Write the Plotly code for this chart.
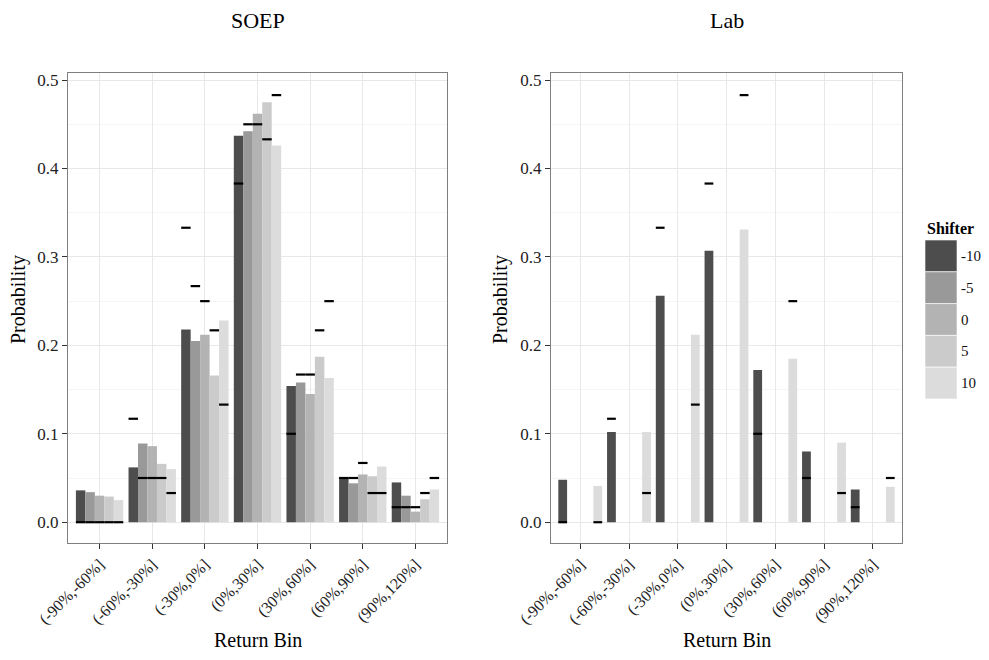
import plotly.graph_objects as go

# ---------------- data ----------------
bins = ["(-90%,-60%]", "(-60%,-30%]", "(-30%,0%]", "(0%,30%]",
        "(30%,60%]", "(60%,90%]", "(90%,120%]"]
shifters = ["-10", "-5", "0", "5", "10"]

soep_m10 = [0.036, 0.062, 0.218, 0.437, 0.154, 0.051, 0.045]
soep_m5 = [0.034, 0.089, 0.205, 0.442, 0.158, 0.044, 0.030]
soep_0 = [0.030, 0.086, 0.212, 0.462, 0.145, 0.054, 0.012]
soep_5 = [0.029, 0.066, 0.166, 0.475, 0.187, 0.052, 0.026]
soep_10 = [0.025, 0.060, 0.228, 0.426, 0.163, 0.063, 0.037]

lab_m10 = [0.048, 0.102, 0.256, 0.307, 0.172, 0.080, 0.037]
lab_10 = [0.041, 0.102, 0.212, 0.331, 0.185, 0.090, 0.040]

ref_m10 = [0.000, 0.117, 0.333, 0.383, 0.100, 0.050, 0.017]
ref_m5 = [0.000, 0.050, 0.267, 0.450, 0.167, 0.050, 0.017]
ref_0 = [0.000, 0.050, 0.250, 0.450, 0.167, 0.067, 0.017]
ref_5 = [0.000, 0.050, 0.217, 0.433, 0.217, 0.033, 0.033]
ref_10 = [0.000, 0.033, 0.133, 0.483, 0.250, 0.033, 0.050]

y_ticks = [0.0, 0.1, 0.2, 0.3, 0.4, 0.5]
y_tick_labels = ["0.0", "0.1", "0.2", "0.3", "0.4", "0.5"]

# ---------------- styles ----------------
colors = ["#4d4d4d", "#999999", "#b3b3b3", "#cbcbcb", "#dcdcdc"]
FONT = "Liberation Serif"
BW = 0.18          # bar width (category units)
DODGE = 0.9        # total dodge width

# page body has an 8px margin; size the figure so it fits the window
BODY = 8
W, H = 989 - 2 * BODY, 660 - 2 * BODY


def px(x):
    return (x - BODY) / W


def py(y):
    return 1 - (y - BODY) / H


soep_series = [soep_m10, soep_m5, soep_0, soep_5, soep_10]
soep_refs = [ref_m10, ref_m5, ref_0, ref_5, ref_10]
lab_series = {0: (lab_m10, ref_m10), 4: (lab_10, ref_10)}

xpos = list(range(len(bins)))

fig = go.Figure()


def add_panel(idx, vals, refs, xa, ya):
    off = -DODGE / 2 + BW * idx
    fig.add_trace(go.Bar(
        x=xpos, y=vals, width=BW, offset=off,
        marker=dict(color=colors[idx], line=dict(width=0)),
        xaxis=xa, yaxis=ya, showlegend=False,
        name=shifters[idx]))
    fig.add_trace(go.Scatter(
        x=[p + off + BW / 2 for p in xpos], y=refs,
        mode="markers", marker=dict(size=0.1, color="black", opacity=0),
        error_x=dict(type="data", symmetric=True, array=[BW / 2] * len(refs),
                     width=0, thickness=2.2, color="black"),
        xaxis=xa, yaxis=ya, showlegend=False, hoverinfo="skip"))


for i, (vals, refs) in enumerate(zip(soep_series, soep_refs)):
    add_panel(i, vals, refs, "x", "y")
for i, (vals, refs) in lab_series.items():
    add_panel(i, vals, refs, "x2", "y2")

soep_dom = [px(68), px(447)]
lab_dom = [px(551), px(902)]
ydom = [py(543), py(73)]

axis_common = dict(
    showline=True, mirror=True, linecolor="#7f7f7f", linewidth=1,
    ticks="outside", ticklen=5, tickcolor="#333333", tickwidth=1,
    showgrid=True, gridcolor="#e8e8e8", gridwidth=1, zeroline=False,
    automargin=False,
)
xaxis_common = dict(axis_common, range=[-0.6, 6.6], tickvals=xpos,
                    ticktext=bins, tickangle=-45,
                    tickfont=dict(family=FONT, size=16, color="#222222"))
yaxis_common = dict(axis_common, range=[-0.0235, 0.508], tickvals=y_ticks,
                    ticktext=y_tick_labels,
                    tickfont=dict(family=FONT, size=17, color="#222222"),
                    minor=dict(tickvals=[0.05, 0.15, 0.25, 0.35, 0.45],
                               showgrid=True, gridcolor="#f5f5f5",
                               ticks=""))

fig.update_layout(
    template="none",
    width=W, height=H,
    margin=dict(l=0, r=0, t=0, b=0, pad=0),
    paper_bgcolor="white", plot_bgcolor="white",
    barmode="overlay",
    showlegend=False,
    xaxis=dict(xaxis_common, domain=soep_dom, anchor="y"),
    yaxis=dict(yaxis_common, domain=ydom, anchor="x"),
    xaxis2=dict(xaxis_common, domain=lab_dom, anchor="y2"),
    yaxis2=dict(yaxis_common, domain=ydom, anchor="x2"),
    font=dict(family=FONT, color="#000000"),
)

ann = []
common_txt = dict(xref="paper", yref="paper", showarrow=False,
                  xanchor="center", yanchor="middle")
# panel titles
ann.append(dict(common_txt, text="SOEP", x=sum(soep_dom) / 2, y=py(20),
                font=dict(family=FONT, size=22)))
ann.append(dict(common_txt, text="Lab", x=sum(lab_dom) / 2, y=py(20),
                font=dict(family=FONT, size=22)))
# axis titles
for xc in [sum(soep_dom) / 2, sum(lab_dom) / 2]:
    ann.append(dict(common_txt, text="Return Bin", x=xc, y=py(640),
                    font=dict(family=FONT, size=20)))
for xc in [px(18), px(500)]:
    ann.append(dict(common_txt, text="Probability", x=xc, y=py(300),
                    textangle=-90, font=dict(family=FONT, size=20)))

# legend (manual, ggplot-style keys)
shapes = []
lx0, lx1 = px(925), px(957)
top_px, key_h = 240, 31.8
ann.append(dict(common_txt, text="<b>Shifter</b>", x=lx0, y=py(228),
                xanchor="left", font=dict(family=FONT, size=16)))
for i, s in enumerate(shifters):
    y0 = top_px + i * key_h
    shapes.append(dict(type="rect", xref="paper", yref="paper",
                       x0=lx0, x1=lx1, y0=py(y0 + key_h), y1=py(y0),
                       fillcolor=colors[i],
                       line=dict(width=0.6, color="#ffffff")))
    ann.append(dict(common_txt, text=s, x=px(959), y=py(y0 + key_h / 2),
                    xanchor="left",
                    font=dict(family=FONT, size=15, color="#111111")))

fig.update_layout(annotations=ann, shapes=shapes)
fig.write_html("out.html")
